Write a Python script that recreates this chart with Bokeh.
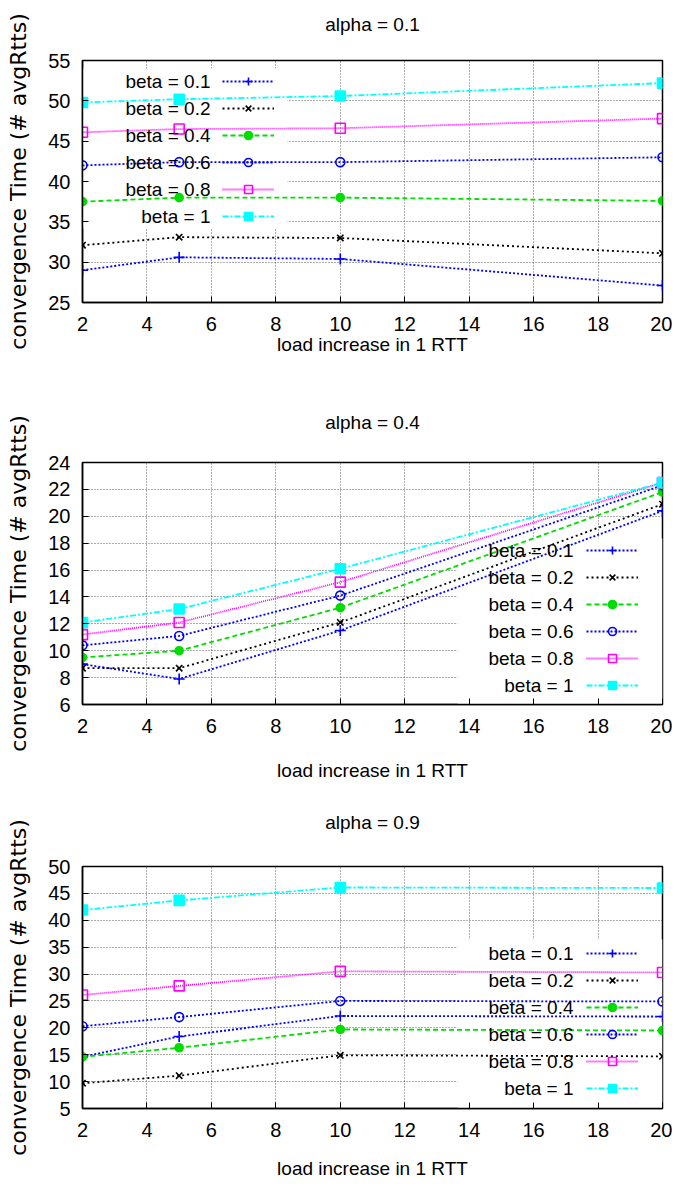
from bokeh.plotting import figure
from bokeh.layouts import column
from bokeh.models import (Legend, LegendItem, Label, BoxAnnotation, FixedTicker, Range1d, LinearAxis)
from bokeh.embed import file_html
from bokeh.resources import INLINE

# ---------------- data ----------------
X_LOAD = [2, 5, 10, 20]
X_TICKS = [2, 4, 6, 8, 10, 12, 14, 16, 18, 20]
BETA_LABELS = ["beta = 0.1", "beta = 0.2", "beta = 0.4", "beta = 0.6", "beta = 0.8", "beta = 1"]
TITLES = ["alpha = 0.1", "alpha = 0.4", "alpha = 0.9"]
X_LABEL = "load increase in 1 RTT"
Y_LABEL = "convergence Time (# avgRtts)"

# alpha = 0.1
a1_beta01 = [29.0, 30.6, 30.4, 27.1]
a1_beta02 = [32.1, 33.1, 33.0, 31.1]
a1_beta04 = [37.5, 38.0, 38.0, 37.6]
a1_beta06 = [42.0, 42.4, 42.4, 43.0]
a1_beta08 = [46.1, 46.5, 46.6, 47.8]
a1_beta1 = [49.8, 50.2, 50.6, 52.2]
a1_yticks = [25, 30, 35, 40, 45, 50, 55]

# alpha = 0.4
a4_beta01 = [9.0, 7.9, 11.5, 20.4]
a4_beta02 = [8.7, 8.7, 12.1, 20.9]
a4_beta04 = [9.5, 10.0, 13.2, 21.8]
a4_beta06 = [10.4, 11.1, 14.1, 22.3]
a4_beta08 = [11.2, 12.1, 15.1, 22.5]
a4_beta1 = [12.1, 13.1, 16.1, 22.5]
a4_yticks = [6, 8, 10, 12, 14, 16, 18, 20, 22, 24]

# alpha = 0.9
a9_beta01 = [14.6, 18.4, 22.2, 22.1]
a9_beta02 = [9.7, 11.1, 14.9, 14.7]
a9_beta04 = [14.6, 16.3, 19.7, 19.5]
a9_beta06 = [20.3, 22.0, 25.0, 24.9]
a9_beta08 = [26.1, 27.8, 30.5, 30.3]
a9_beta1 = [41.9, 43.7, 46.1, 46.0]
a9_yticks = [5, 10, 15, 20, 25, 30, 35, 40, 45, 50]

# ---------------- styles ----------------
STYLES = [
    dict(color="#0000ff", dash="2 2", marker="cross", size=11, filled=False),
    dict(color="#000000", dash="2 3", marker="x", size=9, filled=False),
    dict(color="#00dd00", dash="5 3", marker="circle", size=8, filled=True),
    dict(color="#0000ff", dash="2 2", marker="circle", size=9, filled=False),
    dict(color="#ff00ff", dash="1 1", marker="square", size=10, filled=False),
    dict(color="#00ffff", dash="6 2 2 2", marker="square", size=10, filled=True),
]

FONT = "Liberation Sans"
FRAME_W, FRAME_H = 580, 242


def make_panel(title, series, yticks, top_border, bottom_border, title_standoff, xlabel_standoff,
               legend_x, legend_first_row, label_right, box_px):
    y0, y1 = yticks[0], yticks[-1]
    p = figure(frame_width=FRAME_W, frame_height=FRAME_H,
               min_border_left=82, min_border_right=10,
               min_border_top=top_border, min_border_bottom=bottom_border,
               x_range=Range1d(X_TICKS[0], X_TICKS[-1]), y_range=Range1d(y0, y1),
               output_backend="svg", toolbar_location=None)

    xax = p.below[0]
    yax = p.left[0]

    # panel title, carried by a tick-less axis above the frame
    tax = LinearAxis(ticker=FixedTicker(ticks=[]), axis_label=title,
                     axis_line_color=None, major_tick_line_color=None,
                     minor_tick_line_color=None, major_label_standoff=5,
                     axis_label_standoff=title_standoff,
                     axis_label_text_font=FONT, axis_label_text_font_size="19px",
                     axis_label_text_font_style="normal", axis_label_text_color="black")
    p.add_layout(tax, "above")

    p.outline_line_color = "black"
    p.outline_line_width = 1.5
    p.outline_line_alpha = 1

    for ax in (xax, yax):
        ax.axis_line_color = "black"
        ax.axis_line_width = 1.5
        ax.major_tick_in = 6
        ax.major_tick_out = 0
        ax.minor_tick_line_color = None
        ax.major_tick_line_color = "black"
        ax.major_label_text_font = FONT
        ax.major_label_text_font_size = "20px"
        ax.major_label_text_color = "black"
        ax.axis_label_text_font_style = "normal"
        ax.axis_label_text_color = "black"

    xax.ticker = FixedTicker(ticks=X_TICKS)
    yax.ticker = FixedTicker(ticks=yticks)
    xax.axis_label = X_LABEL
    xax.axis_label_text_font = FONT
    xax.axis_label_text_font_size = "19px"
    xax.major_label_standoff = 14
    xax.axis_label_standoff = xlabel_standoff
    yax.axis_label = Y_LABEL
    yax.axis_label_text_font = "DejaVu Sans"
    yax.axis_label_text_font_size = "22px"
    yax.major_label_standoff = 12
    yax.axis_label_standoff = 14

    for g in (p.xgrid[0], p.ygrid[0]):
        g.grid_line_color = "#333333"
        g.grid_line_alpha = 0.8
        g.grid_line_dash = "1 2"
        g.grid_line_width = 1
        g.level = "image"
    p.xgrid.ticker = FixedTicker(ticks=X_TICKS)
    p.ygrid.ticker = FixedTicker(ticks=yticks)

    # white key area hiding the grid (pixel box converted to data units)
    bl, br, bt, bb = box_px  # frame-relative pixels: left, right, top(from top), bottom(from top)
    xs = (X_TICKS[-1] - X_TICKS[0]) / FRAME_W
    ys = (y1 - y0) / FRAME_H
    p.add_layout(BoxAnnotation(left=X_TICKS[0] + bl * xs, right=X_TICKS[0] + br * xs,
                               top=y1 - bt * ys, bottom=y1 - bb * ys,
                               fill_color="white", fill_alpha=1, line_alpha=0,
                               level="underlay"))

    items = []
    for lab, ys_, st in zip(BETA_LABELS, series, STYLES):
        lr = p.line(X_LOAD, ys_, line_color=st["color"], line_dash=st["dash"], line_width=1.8)
        sr = p.scatter(X_LOAD, ys_, marker=st["marker"], size=st["size"],
                       line_color=st["color"], line_width=1.6,
                       fill_color=st["color"] if st["filled"] else None)
        items.append(LegendItem(label="", renderers=[lr, sr]))

    row_h, gap = 20, 7
    n = len(items)
    leg_h = n * row_h + (n - 1) * gap
    top_from_top = legend_first_row - row_h / 2
    leg = Legend(items=items, location=(legend_x, FRAME_H - top_from_top - leg_h),
                 glyph_width=52, glyph_height=row_h, spacing=gap, padding=0, margin=0,
                 label_width=0, label_height=0, label_standoff=0,
                 label_text_font_size="1px", border_line_alpha=0,
                 background_fill_alpha=0)
    p.add_layout(leg)

    for i, lab in enumerate(BETA_LABELS):
        cy = FRAME_H - (legend_first_row + i * (row_h + gap))
        p.add_layout(Label(x=label_right, y=cy, x_units="screen", y_units="screen",
                           text=lab, text_align="right", text_baseline="middle",
                           text_font=FONT, text_font_size="19px", text_color="black"))
    return p


p1 = make_panel(TITLES[0], [a1_beta01, a1_beta02, a1_beta04, a1_beta06, a1_beta08, a1_beta1],
                a1_yticks, 60, 96, 26, 0, 140, 21, 128, (0, 205, 8, 168))
p2 = make_panel(TITLES[1], [a4_beta01, a4_beta02, a4_beta04, a4_beta06, a4_beta08, a4_beta1],
                a4_yticks, 64, 86, 30, 24, 504, 88, 491, (375, 580, 76, 242))
p3 = make_panel(TITLES[2], [a9_beta01, a9_beta02, a9_beta04, a9_beta06, a9_beta08, a9_beta1],
                a9_yticks, 76, 74, 34, 18, 504, 87, 491, (375, 580, 73, 242))

layout = column(p1, p2, p3, spacing=0)
open("out.html", "w").write(file_html(layout, INLINE))
